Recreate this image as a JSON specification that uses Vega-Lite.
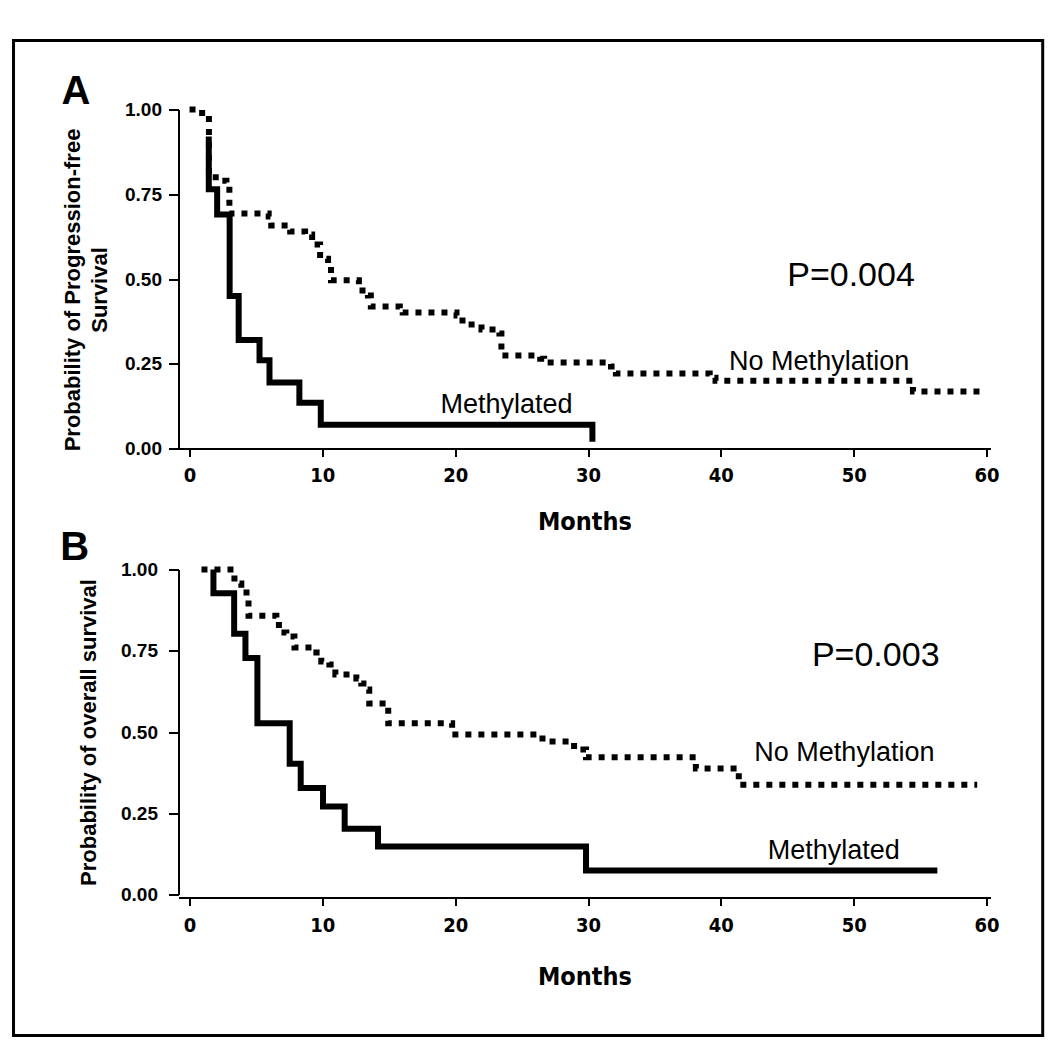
{
  "$schema": "https://vega.github.io/schema/vega-lite/v6.json",
  "autosize": {"type": "pad"},
  "padding": {"left": 11.5, "top": 38.5, "right": 4, "bottom": 10},
  "bounds": "flush",
  "spacing": 121,
  "background": "white",
  "config": {
    "view": {"stroke": null},
    "font": "Liberation Sans",
    "axis": {"domainColor": "black", "tickColor": "black", "labelColor": "black", "titleColor": "black", "grid": false, "domainWidth": 2, "tickWidth": 2}
  },
  "datasets": {
    "curves": [
      {"panel": "A", "group": "Methylated", "month": 1.45, "surv": 0.92},
      {"panel": "A", "group": "Methylated", "month": 1.45, "surv": 0.765},
      {"panel": "A", "group": "Methylated", "month": 2.08, "surv": 0.69},
      {"panel": "A", "group": "Methylated", "month": 3.02, "surv": 0.45},
      {"panel": "A", "group": "Methylated", "month": 3.7, "surv": 0.32},
      {"panel": "A", "group": "Methylated", "month": 5.27, "surv": 0.26},
      {"panel": "A", "group": "Methylated", "month": 6.02, "surv": 0.195},
      {"panel": "A", "group": "Methylated", "month": 8.27, "surv": 0.135},
      {"panel": "A", "group": "Methylated", "month": 9.88, "surv": 0.07},
      {"panel": "A", "group": "Methylated", "month": 30.33, "surv": 0.02},
      {"panel": "A", "group": "No Methylation", "month": 0, "surv": 1.0},
      {"panel": "A", "group": "No Methylation", "month": 0.53, "surv": 0.99},
      {"panel": "A", "group": "No Methylation", "month": 1.28, "surv": 0.985},
      {"panel": "A", "group": "No Methylation", "month": 1.46, "surv": 0.8},
      {"panel": "A", "group": "No Methylation", "month": 2.25, "surv": 0.79},
      {"panel": "A", "group": "No Methylation", "month": 2.78, "surv": 0.776},
      {"panel": "A", "group": "No Methylation", "month": 3.0, "surv": 0.693},
      {"panel": "A", "group": "No Methylation", "month": 5.96, "surv": 0.684},
      {"panel": "A", "group": "No Methylation", "month": 6.15, "surv": 0.658},
      {"panel": "A", "group": "No Methylation", "month": 7.58, "surv": 0.64},
      {"panel": "A", "group": "No Methylation", "month": 8.7, "surv": 0.631},
      {"panel": "A", "group": "No Methylation", "month": 9.23, "surv": 0.602},
      {"panel": "A", "group": "No Methylation", "month": 9.83, "surv": 0.56},
      {"panel": "A", "group": "No Methylation", "month": 10.43, "surv": 0.54},
      {"panel": "A", "group": "No Methylation", "month": 10.65, "surv": 0.496},
      {"panel": "A", "group": "No Methylation", "month": 12.75, "surv": 0.466},
      {"panel": "A", "group": "No Methylation", "month": 13.43, "surv": 0.451},
      {"panel": "A", "group": "No Methylation", "month": 13.65, "surv": 0.419},
      {"panel": "A", "group": "No Methylation", "month": 15.83, "surv": 0.41},
      {"panel": "A", "group": "No Methylation", "month": 16.05, "surv": 0.401},
      {"panel": "A", "group": "No Methylation", "month": 20.1, "surv": 0.392},
      {"panel": "A", "group": "No Methylation", "month": 20.55, "surv": 0.366},
      {"panel": "A", "group": "No Methylation", "month": 21.98, "surv": 0.351},
      {"panel": "A", "group": "No Methylation", "month": 23.33, "surv": 0.339},
      {"panel": "A", "group": "No Methylation", "month": 23.48, "surv": 0.274},
      {"panel": "A", "group": "No Methylation", "month": 26.4, "surv": 0.265},
      {"panel": "A", "group": "No Methylation", "month": 26.7, "surv": 0.254},
      {"panel": "A", "group": "No Methylation", "month": 31.73, "surv": 0.242},
      {"panel": "A", "group": "No Methylation", "month": 32.1, "surv": 0.221},
      {"panel": "A", "group": "No Methylation", "month": 39.16, "surv": 0.209},
      {"panel": "A", "group": "No Methylation", "month": 39.6, "surv": 0.2},
      {"panel": "A", "group": "No Methylation", "month": 54.46, "surv": 0.168},
      {"panel": "A", "group": "No Methylation", "month": 59.8, "surv": 0.168},
      {"panel": "B", "group": "Methylated", "month": 1.8, "surv": 1.0},
      {"panel": "B", "group": "Methylated", "month": 1.8, "surv": 0.927},
      {"panel": "B", "group": "Methylated", "month": 3.36, "surv": 0.802},
      {"panel": "B", "group": "Methylated", "month": 4.21, "surv": 0.728},
      {"panel": "B", "group": "Methylated", "month": 5.11, "surv": 0.527},
      {"panel": "B", "group": "Methylated", "month": 7.54, "surv": 0.402},
      {"panel": "B", "group": "Methylated", "month": 8.37, "surv": 0.328},
      {"panel": "B", "group": "Methylated", "month": 10.05, "surv": 0.271},
      {"panel": "B", "group": "Methylated", "month": 11.68, "surv": 0.202},
      {"panel": "B", "group": "Methylated", "month": 14.19, "surv": 0.148},
      {"panel": "B", "group": "Methylated", "month": 29.85, "surv": 0.074},
      {"panel": "B", "group": "Methylated", "month": 56.3, "surv": 0.074},
      {"panel": "B", "group": "No Methylation", "month": 0.9, "surv": 1.0},
      {"panel": "B", "group": "No Methylation", "month": 3.38, "surv": 0.957},
      {"panel": "B", "group": "No Methylation", "month": 3.9, "surv": 0.943},
      {"panel": "B", "group": "No Methylation", "month": 4.29, "surv": 0.908},
      {"panel": "B", "group": "No Methylation", "month": 4.44, "surv": 0.858},
      {"panel": "B", "group": "No Methylation", "month": 6.54, "surv": 0.849},
      {"panel": "B", "group": "No Methylation", "month": 6.73, "surv": 0.806},
      {"panel": "B", "group": "No Methylation", "month": 7.29, "surv": 0.794},
      {"panel": "B", "group": "No Methylation", "month": 7.9, "surv": 0.76},
      {"panel": "B", "group": "No Methylation", "month": 9.55, "surv": 0.745},
      {"panel": "B", "group": "No Methylation", "month": 9.92, "surv": 0.717},
      {"panel": "B", "group": "No Methylation", "month": 10.53, "surv": 0.708},
      {"panel": "B", "group": "No Methylation", "month": 10.98, "surv": 0.677},
      {"panel": "B", "group": "No Methylation", "month": 12.56, "surv": 0.665},
      {"panel": "B", "group": "No Methylation", "month": 12.93, "surv": 0.649},
      {"panel": "B", "group": "No Methylation", "month": 13.38, "surv": 0.631},
      {"panel": "B", "group": "No Methylation", "month": 13.53, "surv": 0.588},
      {"panel": "B", "group": "No Methylation", "month": 14.81, "surv": 0.582},
      {"panel": "B", "group": "No Methylation", "month": 14.96, "surv": 0.527},
      {"panel": "B", "group": "No Methylation", "month": 19.77, "surv": 0.492},
      {"panel": "B", "group": "No Methylation", "month": 26.3, "surv": 0.48},
      {"panel": "B", "group": "No Methylation", "month": 26.84, "surv": 0.471},
      {"panel": "B", "group": "No Methylation", "month": 28.95, "surv": 0.446},
      {"panel": "B", "group": "No Methylation", "month": 29.85, "surv": 0.422},
      {"panel": "B", "group": "No Methylation", "month": 38.12, "surv": 0.388},
      {"panel": "B", "group": "No Methylation", "month": 41.35, "surv": 0.338},
      {"panel": "B", "group": "No Methylation", "month": 59.3, "surv": 0.338}
    ],
    "notes": [
      {"panel": "A", "kind": "p", "label": "P=0.004", "month": 49.8, "surv": 0.51},
      {"panel": "A", "kind": "g", "label": "No Methylation", "month": 47.4, "surv": 0.254},
      {"panel": "A", "kind": "g", "label": "Methylated", "month": 23.87, "surv": 0.127},
      {"panel": "A", "kind": "letter", "label": "A", "month": -8.55, "surv": 1.053},
      {"panel": "B", "kind": "p", "label": "P=0.003", "month": 51.66, "surv": 0.735},
      {"panel": "B", "kind": "g", "label": "No Methylation", "month": 49.3, "surv": 0.434},
      {"panel": "B", "kind": "g", "label": "Methylated", "month": 48.5, "surv": 0.135},
      {"panel": "B", "kind": "letter", "label": "B", "month": -8.65, "surv": 1.065}
    ]
  },
  "vconcat": [
    {
      "width": 812,
      "height": 339,
      "layer": [
        {
          "data": {"name": "curves"},
          "transform": [{"filter": "datum.panel === 'A'"}],
          "mark": {"type": "line", "interpolate": "step-after", "color": "black", "strokeWidth": 6, "strokeCap": "butt"},
          "encoding": {
            "x": {"field": "month", "type": "quantitative", "title": "Months",
              "scale": {"domain": [-0.83, 60.3], "nice": false, "zero": false},
              "axis": {"values": [0, 10, 20, 30, 40, 50, 60], "labelFont": "Liberation Sans Narrow, DejaVu Sans Condensed, Liberation Sans", "labelFontSize": 20, "labelFontWeight": "bold", "titleFont": "Liberation Sans Narrow, DejaVu Sans Condensed, Liberation Sans", "titleFontSize": 25, "titleFontWeight": "bold", "tickSize": 8, "labelPadding": 9, "titlePadding": 24}},
            "y": {"field": "surv", "type": "quantitative", "title": ["Probability of Progression-free", "Survival"],
              "scale": {"domain": [0, 1], "nice": false, "zero": false},
              "axis": {"values": [0, 0.25, 0.5, 0.75, 1], "format": ".2f", "labelFontSize": 19, "labelFontWeight": "bold", "titleFontSize": 22, "titleFontWeight": "bold", "titleLineHeight": 27, "titleY": 180, "tickSize": 10, "labelPadding": 7, "titlePadding": 13}},
            "strokeDash": {"field": "group", "type": "nominal", "legend": null,
              "scale": {"domain": ["Methylated", "No Methylation"], "range": [[1, 0], [6, 7]]}}
          }
        },
        {
          "data": {"name": "notes"},
          "transform": [{"filter": "datum.panel === 'A' && datum.kind === 'p'"}],
          "mark": {"type": "text", "fontSize": 34, "color": "black", "align": "center", "baseline": "middle"},
          "encoding": {
            "x": {"field": "month", "type": "quantitative", "title": "Months", "scale": {"domain": [-0.83, 60.3], "nice": false, "zero": false}},
            "y": {"field": "surv", "type": "quantitative", "title": ["Probability of Progression-free", "Survival"], "scale": {"domain": [0, 1], "nice": false, "zero": false}},
            "text": {"field": "label"}
          }
        },
        {
          "data": {"name": "notes"},
          "transform": [{"filter": "datum.panel === 'A' && datum.kind === 'g'"}],
          "mark": {"type": "text", "fontSize": 27, "color": "black", "align": "center", "baseline": "middle"},
          "encoding": {
            "x": {"field": "month", "type": "quantitative", "title": "Months", "scale": {"domain": [-0.83, 60.3], "nice": false, "zero": false}},
            "y": {"field": "surv", "type": "quantitative", "title": ["Probability of Progression-free", "Survival"], "scale": {"domain": [0, 1], "nice": false, "zero": false}},
            "text": {"field": "label"}
          }
        },
        {
          "data": {"name": "notes"},
          "transform": [{"filter": "datum.panel === 'A' && datum.kind === 'letter'"}],
          "mark": {"type": "text", "fontSize": 40, "fontWeight": "bold", "color": "black", "align": "center", "baseline": "middle"},
          "encoding": {
            "x": {"field": "month", "type": "quantitative", "title": "Months", "scale": {"domain": [-0.83, 60.3], "nice": false, "zero": false}},
            "y": {"field": "surv", "type": "quantitative", "title": ["Probability of Progression-free", "Survival"], "scale": {"domain": [0, 1], "nice": false, "zero": false}},
            "text": {"field": "label"}
          }
        },
        {
          "data": {"values": [{"frame": 1}]},
          "mark": {"type": "rect", "fill": null, "stroke": "black", "strokeWidth": 3, "clip": false},
          "encoding": {
            "x": {"datum": -13.25, "type": "quantitative", "title": "Months", "scale": {"domain": [-0.83, 60.3], "nice": false, "zero": false}},
            "x2": {"datum": 64.23},
            "y": {"datum": 1.2035, "type": "quantitative", "title": ["Probability of Progression-free", "Survival"], "scale": {"domain": [0, 1], "nice": false, "zero": false}},
            "y2": {"datum": -1.7316}
          }
        }
      ]
    },
    {
      "width": 812,
      "height": 325,
      "layer": [
        {
          "data": {"name": "curves"},
          "transform": [{"filter": "datum.panel === 'B'"}],
          "mark": {"type": "line", "interpolate": "step-after", "color": "black", "strokeWidth": 6, "strokeCap": "butt"},
          "encoding": {
            "x": {"field": "month", "type": "quantitative", "title": "Months",
              "scale": {"domain": [-0.83, 60.3], "nice": false, "zero": false},
              "axis": {"values": [0, 10, 20, 30, 40, 50, 60], "offset": 3, "labelFont": "Liberation Sans Narrow, DejaVu Sans Condensed, Liberation Sans", "labelFontSize": 20, "labelFontWeight": "bold", "titleFont": "Liberation Sans Narrow, DejaVu Sans Condensed, Liberation Sans", "titleFontSize": 25, "titleFontWeight": "bold", "tickSize": 8, "labelPadding": 10, "titlePadding": 29}},
            "y": {"field": "surv", "type": "quantitative", "title": "Probability of overall survival",
              "scale": {"domain": [0, 1], "nice": false, "zero": false},
              "axis": {"values": [0, 0.25, 0.5, 0.75, 1], "format": ".2f", "labelFontSize": 19, "labelFontWeight": "bold", "titleFontSize": 22, "titleFontWeight": "bold", "tickSize": 10, "labelPadding": 11, "titlePadding": 20}},
            "strokeDash": {"field": "group", "type": "nominal", "legend": null,
              "scale": {"domain": ["Methylated", "No Methylation"], "range": [[1, 0], [6, 7]]}}
          }
        },
        {
          "data": {"name": "notes"},
          "transform": [{"filter": "datum.panel === 'B' && datum.kind === 'p'"}],
          "mark": {"type": "text", "fontSize": 34, "color": "black", "align": "center", "baseline": "middle"},
          "encoding": {
            "x": {"field": "month", "type": "quantitative", "title": "Months", "scale": {"domain": [-0.83, 60.3], "nice": false, "zero": false}},
            "y": {"field": "surv", "type": "quantitative", "title": "Probability of overall survival", "scale": {"domain": [0, 1], "nice": false, "zero": false}},
            "text": {"field": "label"}
          }
        },
        {
          "data": {"name": "notes"},
          "transform": [{"filter": "datum.panel === 'B' && datum.kind === 'g'"}],
          "mark": {"type": "text", "fontSize": 27, "color": "black", "align": "center", "baseline": "middle"},
          "encoding": {
            "x": {"field": "month", "type": "quantitative", "title": "Months", "scale": {"domain": [-0.83, 60.3], "nice": false, "zero": false}},
            "y": {"field": "surv", "type": "quantitative", "title": "Probability of overall survival", "scale": {"domain": [0, 1], "nice": false, "zero": false}},
            "text": {"field": "label"}
          }
        },
        {
          "data": {"name": "notes"},
          "transform": [{"filter": "datum.panel === 'B' && datum.kind === 'letter'"}],
          "mark": {"type": "text", "fontSize": 40, "fontWeight": "bold", "color": "black", "align": "center", "baseline": "middle"},
          "encoding": {
            "x": {"field": "month", "type": "quantitative", "title": "Months", "scale": {"domain": [-0.83, 60.3], "nice": false, "zero": false}},
            "y": {"field": "surv", "type": "quantitative", "title": "Probability of overall survival", "scale": {"domain": [0, 1], "nice": false, "zero": false}},
            "text": {"field": "label"}
          }
        }
      ]
    }
  ]
}
